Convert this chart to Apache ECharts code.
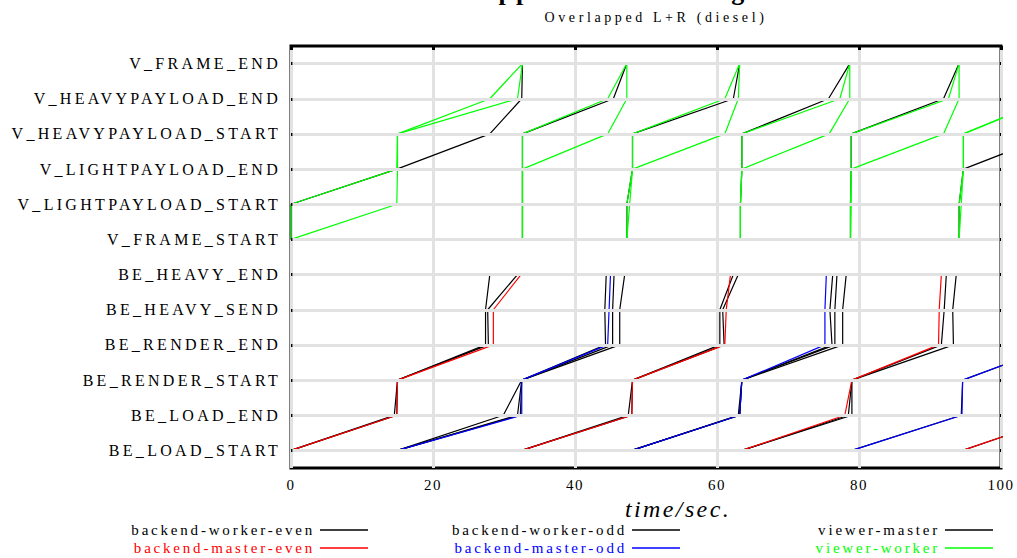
<!DOCTYPE html>
<html><head><meta charset="utf-8">
<script src="https://cdn.jsdelivr.net/npm/echarts@6/dist/echarts.min.js"></script>
<style>html,body{margin:0;padding:0;background:#fff}#c{width:1017px;height:558px}</style>
</head><body><div id="c"></div>
<script>
// ---- categories (bottom -> top) ----
const stages = ['BE_LOAD_START','BE_LOAD_END','BE_RENDER_START','BE_RENDER_END','BE_HEAVY_SEND','BE_HEAVY_END',
  'V_FRAME_START','V_LIGHTPAYLOAD_START','V_LIGHTPAYLOAD_END','V_HEAVYPAYLOAD_START','V_HEAVYPAYLOAD_END','V_FRAME_END'];
const titleText = 'Application Timing';
const subtitleText = 'Overlapped L+R (diesel)';
const xName = 'time/sec.';

// ---- series values: [time, stage index], null = break between frames ----
const backendWorkerEven = [
  [0,0],[14.55,1],[15.0,2],[27.4,3],[27.4,4],[28.0,5], null,
  [0,0],[14.9,1],[15.0,2],[27.8,3],[27.7,4],[31.9,5], null,
  [32.5,0],[47.5,1],[48.1,2],[60.4,3],[60.4,4],[62.3,5], null,
  [32.5,0],[48.0,1],[48.1,2],[61.0,3],[60.8,4],[63.0,5], null,
  [63.5,0],[79.0,1],[79.0,2],[91.6,3],[92.0,4],[92.3,5], null,
  [63.5,0],[78.5,1],[79.0,2],[93.3,3],[93.2,4],[93.7,5], null,
  [94.6,0],[109,1]
];
const backendMasterEven = [
  [0,0],[14.9,1],[15.0,2],[28.5,3],[28.5,4],[32.4,5], null,
  [32.5,0],[48.0,1],[48.1,2],[61.1,3],[61.3,4],[61.9,5], null,
  [63.5,0],[78.0,1],[79.0,2],[91.2,3],[91.3,4],[91.6,5], null,
  [94.6,0],[109,1]
];
const backendWorkerOdd = [
  [15.0,0],[29.9,1],[32.5,2],[45.3,3],[45.3,4],[45.5,5], null,
  [15.0,0],[31.9,1],[32.5,2],[46.3,3],[46.3,4],[47.0,5], null,
  [15.0,0],[32.3,1],[32.5,2],[44.3,3],[44.2,4],[44.4,5], null,
  [48.0,0],[63.0,1],[63.5,2],[76.2,3],[75.9,4],[76.3,5], null,
  [48.0,0],[63.2,1],[63.5,2],[76.6,3],[76.6,4],[76.9,5], null,
  [48.0,0],[63.2,1],[63.5,2],[77.7,3],[77.7,4],[78.2,5], null,
  [79.0,0],[94.4,1],[94.6,2],[108,3]
];
const backendMasterOdd = [
  [15.0,0],[32.5,1],[32.5,2],[44.6,3],[44.8,4],[45.0,5], null,
  [48.0,0],[63.2,1],[63.5,2],[75.2,3],[75.2,4],[75.4,5], null,
  [79.0,0],[94.5,1],[94.6,2],[108,3]
];
const viewerMaster = [
  [0,6],[0,7],[14.9,8],[28.0,9],[32.5,10],[32.6,11], null,
  [32.6,6],[32.6,7],[32.6,8],[32.6,9],[45.4,10],[47.3,11], null,
  [47.3,6],[47.3,7],[48.1,8],[48.1,9],[62.3,10],[63.2,11], null,
  [63.3,6],[63.3,7],[63.5,8],[63.5,9],[75.7,10],[78.7,11], null,
  [78.8,6],[78.8,7],[78.9,8],[78.9,9],[91.9,10],[94.1,11], null,
  [94.1,6],[94.1,7],[94.7,8],[107.5,9]
];
const viewerWorker = [
  [0,6],[0,7],[14.9,8],[15.0,9],[28.0,10],[32.6,11], null,
  [0,6],[14.9,7],[15.0,8],[15.0,9],[31.9,10],[32.6,11], null,
  [32.6,6],[32.6,7],[32.6,8],[32.6,9],[44.6,10],[47.3,11], null,
  [32.6,6],[32.6,7],[32.6,8],[44.6,9],[47.3,10],[47.3,11], null,
  [47.3,6],[47.3,7],[48.1,8],[48.1,9],[61.1,10],[63.2,11], null,
  [47.3,6],[47.7,7],[48.1,8],[61.1,9],[63.0,10],[63.2,11], null,
  [63.3,6],[63.3,7],[63.5,8],[63.5,9],[77.3,10],[78.7,11], null,
  [63.3,6],[63.3,7],[63.5,8],[75.8,9],[78.7,10],[78.7,11], null,
  [78.8,6],[78.8,7],[78.9,8],[78.9,9],[92.6,10],[94.1,11], null,
  [78.8,6],[78.9,7],[78.9,8],[91.9,9],[94.1,10],[94.1,11], null,
  [94.1,6],[94.1,7],[94.7,8],[94.7,9],[106.5,10], null,
  [94.1,6],[94.4,7],[94.7,8],[94.7,9],[107,10]
];

const seriesDefs = [
  {name:'backend-worker-even', color:'#000000', data: backendWorkerEven},
  {name:'backend-master-even', color:'#ff0000', data: backendMasterEven},
  {name:'backend-worker-odd',  color:'#000000', data: backendWorkerOdd},
  {name:'backend-master-odd',  color:'#0000ff', data: backendMasterOdd},
  {name:'viewer-master',       color:'#000000', data: viewerMaster},
  {name:'viewer-worker',       color:'#00ff00', data: viewerWorker}
];

const SERIF = "'Liberation Serif', 'Times New Roman', serif";

function segments(arr){
  const out=[]; let cur=[];
  arr.forEach(p=>{ if(p===null){ if(cur.length) out.push(cur); cur=[]; } else cur.push(p); });
  if(cur.length) out.push(cur);
  return out;
}

const series = [{
  type:'line', name:'_grid', yAxisIndex:1, z:1, silent:true, symbol:'none',
  data:[[-5,0],[-4,0]], lineStyle:{opacity:0},
  markLine:{ silent:true, symbol:'none', animation:false, label:{show:false},
    lineStyle:{color:'#e2e2e2', width:3, type:'solid'},
    data: stages.map((s,i)=>[{coord:[0.2,i]},{coord:[99.8,i]}]) }
}];
seriesDefs.forEach(d=>{
  segments(d.data).forEach(seg=>{
    series.push({type:'line', name:d.name, yAxisIndex:1, z:2, symbol:'none', silent:true,
      data:seg, itemStyle:{color:d.color}, lineStyle:{color:d.color, width:1.2}});
  });
});

const legendBase = {orient:'vertical', align:'right', itemWidth:48, itemHeight:1.5, itemGap:2, icon:'rect',
  padding:0, selectedMode:false, top:522, textStyle:{fontFamily:SERIF, fontSize:15, lineHeight:16}};
function legendItem(i){ return {name:seriesDefs[i].name, textStyle:{color: seriesDefs[i].color}}; }

const chart = echarts.init(document.getElementById('c'), null, {renderer:'svg'});

const spacing = {};
stages.forEach(s=>spacing[s]=3.3);
seriesDefs.forEach(d=>spacing[d.name]=2.8);
spacing[subtitleText]=3.6; spacing[titleText]=3; spacing[xName]=2.4;
['0','20','40','60','80','100'].forEach(s=>spacing[s]=1.5);
chart.on('finished', ()=>{
  document.querySelectorAll('#c text').forEach(t=>{
    const s = t.textContent;
    if (spacing[s] !== undefined) t.setAttribute('letter-spacing', spacing[s]);
  });
});

chart.setOption({
  animation:false,
  backgroundColor:'#fff',
  title:[
    {text:titleText, left:612, textAlign:'center', top:-22, padding:0,
     textStyle:{fontFamily:SERIF, fontSize:26, fontWeight:'bold', color:'#000'}},
    {text:subtitleText, left:656, textAlign:'center', top:10, padding:0,
     textStyle:{fontFamily:SERIF, fontSize:14, fontWeight:'normal', color:'#000'}}
  ],
  grid:{left:291, right:16, top:46, bottom:90, show:true, borderColor:'#000', borderWidth:3, backgroundColor:'transparent'},
  xAxis:[
    {type:'value', min:0, max:100, interval:20, position:'bottom',
     axisLine:{show:false}, axisTick:{show:false},
     axisLabel:{fontFamily:SERIF, fontSize:15, color:'#000', margin:9},
     splitLine:{show:true, lineStyle:{color:'#e2e2e2', width:3}},
     name:xName, nameLocation:'middle', nameGap:20,
     nameTextStyle:{fontFamily:SERIF, fontSize:24, fontStyle:'italic', color:'#000', padding:[0,0,0,64]}},
    {type:'value', min:0, max:100, interval:20, position:'top', z:3,
     axisLine:{show:false}, axisLabel:{show:false}, splitLine:{show:false},
     axisTick:{show:true, inside:true, length:4, lineStyle:{color:'#000', width:3}}}
  ],
  yAxis:[
    {type:'category', data:stages, position:'left', boundaryGap:true, z:3,
     axisLine:{show:false}, splitLine:{show:false},
     axisTick:{show:true, alignWithLabel:true, inside:true, length:6, lineStyle:{color:'#000', width:3}},
     axisLabel:{fontFamily:SERIF, fontSize:16, color:'#000', margin:10}},
    {type:'value', min:-0.5, max:11.5, show:false},
    {type:'category', data:stages, position:'right', boundaryGap:true, z:3,
     axisLine:{show:false}, splitLine:{show:false}, axisLabel:{show:false},
     axisTick:{show:true, alignWithLabel:true, inside:true, length:3, lineStyle:{color:'#000', width:3}}}
  ],
  legend:[
    Object.assign({}, legendBase, {right:649, data:[legendItem(0), legendItem(1)]}),
    Object.assign({}, legendBase, {right:337, data:[legendItem(2), legendItem(3)]}),
    Object.assign({}, legendBase, {right:24,  data:[legendItem(4), legendItem(5)]})
  ],
  series: series
});
</script>
</body></html>
